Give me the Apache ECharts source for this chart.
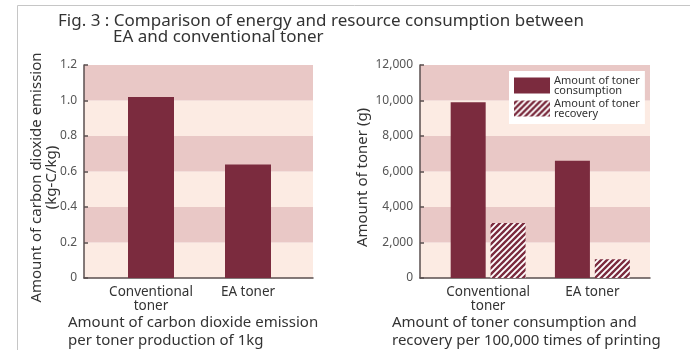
<!DOCTYPE html>
<html>
<head>
<meta charset="utf-8">
<script src="https://cdn.jsdelivr.net/npm/echarts@6/dist/echarts.min.js"></script>
<style>
  html, body { margin: 0; padding: 0; background: #fff; }
  #chart { width: 690px; height: 350px; }
</style>
</head>
<body>
<div id="chart"></div>
<script>
// Categories and measured values
const categories = ['Conventional\ntoner', 'EA toner'];
const co2Emission = [1.02, 0.64];          // kg-C/kg per 1kg of toner produced
const tonerConsumption = [9900, 6600];     // g per 100,000 prints
const tonerRecovery = [3100, 1050];        // g per 100,000 prints
const co2Ticks = { min: 0, max: 1.2, interval: 0.2 };
const tonerTicks = { min: 0, max: 12000, interval: 2000 };

const FONT = '"Noto Sans", "Noto Sans CJK JP", sans-serif';
const MAROON = '#7b2b3e';
const BAND_LIGHT = '#fcebe3';
const BAND_DARK = '#e9c8c6';
const AXIS = '#5a4f4f';
const TEXT = '#333';

// Diagonal white hatching for the recovery bars
function hatch() {
  const s = 6;
  const c = document.createElement('canvas');
  c.width = s; c.height = s;
  const g = c.getContext('2d');
  g.fillStyle = MAROON;
  g.fillRect(0, 0, s, s);
  g.strokeStyle = '#ffffff';
  g.lineWidth = 1.9;
  g.beginPath();
  g.moveTo(-1, s + 1); g.lineTo(s + 1, -1);
  g.moveTo(-1, 1); g.lineTo(1, -1);
  g.moveTo(s - 1, s + 1); g.lineTo(s + 1, s - 1);
  g.stroke();
  return { image: c, repeat: 'repeat' };
}

const chart = echarts.init(document.getElementById('chart'), null, { renderer: 'canvas' });

const bgYAxis = (ticks, fmt, name, nameGap) => ({
  type: 'value', min: ticks.min, max: ticks.max, interval: ticks.interval,
  axisLine: { show: true, lineStyle: { color: AXIS, width: 1.5 } },
  axisTick: { show: true, inside: true, length: 4, lineStyle: { color: AXIS, width: 1.5 } },
  axisLabel: { color: '#555', fontSize: 12, fontFamily: FONT, margin: 7, formatter: fmt },
  splitLine: { show: false },
  splitArea: { show: true, areaStyle: { color: [BAND_LIGHT, BAND_DARK] } },
  name: name, nameLocation: 'middle', nameGap: nameGap, nameRotate: 90,
  nameMoveOverlap: false,
  nameTextStyle: { color: TEXT, fontSize: 15, fontFamily: FONT, lineHeight: 15, padding: [0, 12, 0, 0] }
});
const barYAxis = (ticks) => ({
  type: 'value', min: ticks.min, max: ticks.max, interval: ticks.interval,
  show: false, splitLine: { show: false }
});
const bgXAxis = (grid) => ({
  type: 'category', gridIndex: grid, data: categories,
  axisLine: { show: true, lineStyle: { color: AXIS, width: 1.5 } },
  axisTick: { show: false }, axisLabel: { show: false }
});
const barXAxis = (grid) => ({
  type: 'category', gridIndex: grid, data: categories,
  axisLine: { show: false }, axisTick: { show: false },
  axisLabel: { interval: 0, color: TEXT, fontSize: 13.5, fontFamily: FONT, lineHeight: 14, margin: 7 }
});

const titleText = (size, lh) => ({ color: TEXT, fontSize: size, fontWeight: 'normal', fontFamily: FONT, lineHeight: lh });

const option = {
  animation: false,
  backgroundColor: '#fff',
  textStyle: { fontFamily: FONT },
  title: [
    { text: 'Fig. 3 : Comparison of energy and resource consumption between', left: 58, top: 13,
      padding: 0, textStyle: titleText(17, 17) },
    { text: 'EA and conventional toner', left: 113, top: 29, padding: 0, textStyle: titleText(17, 17) },
    { text: 'Amount of carbon dioxide emission\nper toner production of 1kg', left: 68, top: 314,
      padding: 0, textStyle: titleText(15, 18) },
    { text: 'Amount of toner consumption and\nrecovery per 100,000 times of printing', left: 392, top: 314,
      padding: 0, textStyle: titleText(15, 18) }
  ],
  legend: {
    left: 509, top: 71, orient: 'vertical',
    data: ['Amount of toner\nconsumption', 'Amount of toner\nrecovery'],
    backgroundColor: '#fff', padding: [4, 5, 5, 5], itemGap: 2,
    itemWidth: 36, itemHeight: 16, icon: 'rect',
    textStyle: { color: TEXT, fontSize: 11, fontFamily: FONT, lineHeight: 10, padding: [0, 0, 0, -1] }
  },
  grid: [
    { left: 84, right: 377, top: 65, bottom: 72 },
    { left: 102.5, right: 393.5, top: 65, bottom: 72 },
    { left: 420, right: 40, top: 65, bottom: 72 },
    { left: 436, right: 45.5, top: 65, bottom: 72 }
  ],
  xAxis: [bgXAxis(0), barXAxis(1), bgXAxis(2), barXAxis(3)],
  yAxis: [
    Object.assign(bgYAxis(co2Ticks, v => (v === 0 ? '0' : v.toFixed(1)),
      'Amount of carbon dioxide emission\n(kg-C/kg)', 25), { gridIndex: 0 }),
    Object.assign(barYAxis(co2Ticks), { gridIndex: 1 }),
    Object.assign(bgYAxis(tonerTicks, v => v.toLocaleString('en-US'),
      'Amount of toner (g)', 50), { gridIndex: 2 }),
    Object.assign(barYAxis(tonerTicks), { gridIndex: 3 })
  ],
  series: [
    { name: 'CO2', type: 'bar', xAxisIndex: 1, yAxisIndex: 1, data: co2Emission,
      barWidth: 46, itemStyle: { color: MAROON } },
    { name: 'Amount of toner\nconsumption', type: 'bar', xAxisIndex: 3, yAxisIndex: 3,
      data: tonerConsumption, barWidth: 35, barGap: '14%', itemStyle: { color: MAROON } },
    { name: 'Amount of toner\nrecovery', type: 'bar', xAxisIndex: 3, yAxisIndex: 3,
      data: tonerRecovery, barWidth: 35, barGap: '14%', itemStyle: { color: hatch() } }
  ],
  graphic: [
    { type: 'rect', silent: true, z: 100,
      shape: { x: 17.5, y: 5.5, width: 700, height: 400 },
      style: { fill: 'none', stroke: '#c6c6c6', lineWidth: 1 } }
  ]
};
chart.setOption(option);
</script>
</body>
</html>
